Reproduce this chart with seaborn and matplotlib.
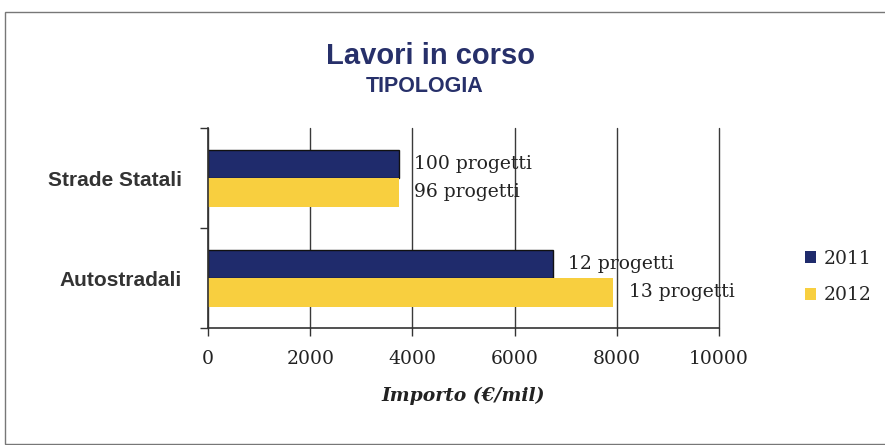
import numpy as np
import pandas as pd
import matplotlib.pyplot as plt
import seaborn as sns
from matplotlib.patches import Patch, Rectangle
from matplotlib.ticker import FixedLocator

# data
tipologie = ["Strade Statali", "Autostradali"]
anni = ["2011", "2012"]
importo_2011 = [3740, 6750]
importo_2012 = [3740, 7930]
progetti_2011 = [100, 12]
progetti_2012 = [96, 13]
x_ticks = [0, 2000, 4000, 6000, 8000, 10000]

colori = {"2011": "#1f2b6c", "2012": "#f8cf3f"}
navy_title = "#27306a"

df = pd.DataFrame({
    "tipologia": tipologie * 2,
    "anno": [anni[0]] * 2 + [anni[1]] * 2,
    "importo": importo_2011 + importo_2012,
})

sns.set_style("white")
plt.rcParams["font.family"] = ["DejaVu Sans"]

fig = plt.figure(figsize=(8.85, 4.45), dpi=100)
ax = fig.add_axes([208 / 885, 1 - 328 / 445, 511 / 885, 200 / 445])

sns.barplot(data=df, x="importo", y="tipologia", hue="anno", orient="h",
            palette=colori, hue_order=anni, order=tipologie, width=0.57,
            saturation=1, legend=False, ax=ax)

# dark outline on the 2011 bars, as in the reference
for bar in ax.containers[0]:
    bar.set_edgecolor("#111111")
    bar.set_linewidth(1)
for bar in ax.containers[1]:
    bar.set_edgecolor("none")

ax.set_xlim(0, 10000)
ax.set_ylim(1.5, -0.5)
ax.set_xticks(x_ticks)
ax.set_xticklabels([str(t) for t in x_ticks], family="DejaVu Serif", fontsize=13.5,
                   color="#222222")
ax.set_yticks(range(len(tipologie)))
ax.set_yticklabels(tipologie, family="Liberation Sans", fontweight="bold",
                   fontsize=15, color="#333333")
ax.yaxis.set_minor_locator(FixedLocator([-0.5, 0.5, 1.5]))
ax.tick_params(axis="y", which="major", length=0, pad=19)
ax.tick_params(axis="y", which="minor", length=6, width=1, color="#333333", left=True)
ax.tick_params(axis="x", which="major", length=6, width=1, color="#333333",
               bottom=True, pad=10)

ax.xaxis.grid(True, color="#3a3a3a", lw=1)
for line in ax.get_xgridlines():
    line.set_clip_on(False)
ax.set_axisbelow(True)
for s in ["top", "right"]:
    ax.spines[s].set_visible(False)
for s in ["left", "bottom"]:
    ax.spines[s].set_color("#333333")
    ax.spines[s].set_linewidth(1.2)

ax.set_ylabel("")
ax.set_xlabel("Importo (€/mil)", family="DejaVu Serif", fontweight="bold",
              style="italic", fontsize=13.5, labelpad=13, color="#222222")

# project counts next to the bars
for cont, vals in zip(ax.containers, [progetti_2011, progetti_2012]):
    ax.bar_label(cont, labels=[f"{v} progetti" for v in vals], padding=11,
                 family="DejaVu Serif", fontsize=13.5, color="#222222")

# titles
fig.text(0.486, 1 - 56 / 445, "Lavori in corso", ha="center", va="center",
         family="Liberation Sans", fontweight="bold", fontsize=21, color=navy_title)
fig.text(0.48, 1 - 87 / 445, "TIPOLOGIA", ha="center", va="center",
         family="Liberation Sans", fontweight="bold", fontsize=15.5, color=navy_title)

# legend
handles = [Patch(facecolor=colori[a], edgecolor="none") for a in anni]
fig.legend(handles, anni, loc="center left", bbox_to_anchor=(788 / 885, 1 - 277 / 445),
           frameon=False, handlelength=0.6, handleheight=0.6, handletextpad=0.4,
           labelspacing=1.0, prop={"family": "DejaVu Serif", "size": 13.5})

# outer frame
fig.patches.append(Rectangle((5 / 885, 0.003), 0.995, 1 - 12 / 445 - 0.003,
                             transform=fig.transFigure, fill=False,
                             edgecolor="#777777", lw=1))

fig.savefig("out.png", dpi=100)
